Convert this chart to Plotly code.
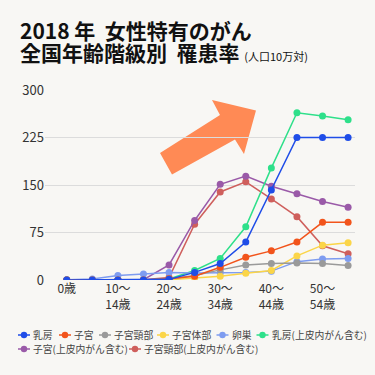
import plotly.graph_objects as go

categories = ["0歳", "5～9歳", "10～14歳", "15～19歳", "20～24歳", "25～29歳",
              "30～34歳", "35～39歳", "40～44歳", "45～49歳", "50～54歳", "55～59歳"]
tick_cats = ["0歳", "10～14歳", "20～24歳", "30～34歳", "40～44歳", "50～54歳"]
tick_text = ["0歳", "10～<br>14歳", "20～<br>24歳", "30～<br>34歳", "40～<br>44歳", "50～<br>54歳"]

series_names = ["乳房", "子宮", "子宮頸部", "子宮体部", "卵巣",
                "乳房(上皮内がん含む)", "子宮(上皮内がん含む)", "子宮頸部(上皮内がん含む)"]
breast = [0, 0, 0, 0, 1, 12, 26, 60, 142, 225, 225, 225]
uterus = [0, 0, 0, 0, 2, 6, 20, 36, 46, 60, 91, 91]
cervix = [0, 0, 0, 0, 1.5, 7, 16, 23.5, 26, 27, 26, 23]
corpus = [0, 0, 0, 0, 0.5, 3, 6, 10.5, 15, 38, 55, 59]
ovary = [0.5, 1.5, 7, 9.5, 12, 11, 11.5, 12, 14, 29, 33, 34]
breast_cis = [0, 0, 0, 0, 1.5, 15, 34, 84, 177, 264, 259, 253]
uterus_cis = [0, 0, 0, 0.5, 23.7, 94, 151, 164, 148, 136, 124, 115]
cervix_cis = [0, 0, 0, 0.5, 4, 88, 139, 155, 128, 100, 54, 41.5]
series_values = [breast, uterus, cervix, corpus, ovary, breast_cis, uterus_cis, cervix_cis]
colors = ["#1f4de8", "#f2541b", "#9a9a9a", "#fbd548", "#7e9cf0",
          "#2ee08a", "#9a5aa8", "#cf5f5c"]

y_ticks = [0, 75, 150, 225, 300]

fig = go.Figure()
# draw in reverse so the first series sits on top
for i in reversed(range(len(series_names))):
    fig.add_trace(go.Scatter(
        x=categories, y=series_values[i], name=series_names[i],
        mode="lines+markers", showlegend=False,
        line=dict(color=colors[i], width=1.5),
        marker=dict(color=colors[i], size=7),
    ))

L, R, T, B = 45, 20, 90, 95
W, H = 375, 375
pw, ph = W - L - R, H - T - B


def px(x):
    return (x - L) / pw


def py(y):
    return (H - B - y) / ph


arrow_pts = [(160, 153), (220, 115), (212, 100), (256, 110.5),
             (244, 154), (235, 139.5), (172, 174.5)]
path = "M " + " L ".join(f"{px(x):.4f},{py(y):.4f}" for x, y in arrow_pts) + " Z"
shapes = [dict(type="path", path=path, xref="paper", yref="paper",
               fillcolor="#ff8a55", line=dict(width=0), layer="below")]

annotations = [
    dict(text="<b>2018 年  女性特有のがん</b>", xref="paper", yref="paper",
         x=px(18), y=py(30), xanchor="left", yanchor="middle", showarrow=False,
         font=dict(size=21, color="#111111", family="Noto Sans CJK JP")),
    dict(text="<b>全国年齢階級別  罹患率</b> <span style='font-size:11px'>(人口10万対)</span>",
         xref="paper", yref="paper",
         x=px(18), y=py(52), xanchor="left", yanchor="middle", showarrow=False,
         font=dict(size=21, color="#111111", family="Noto Sans CJK JP")),
]

# custom legend (dot-line symbol + label)
legend_pos = [(24, 335), (65, 335), (105, 335), (163, 335), (222.5, 335), (262.5, 335),
              (24, 349), (135, 349)]
for i, (cx, cy) in enumerate(legend_pos):
    shapes.append(dict(type="line", xref="paper", yref="paper",
                       x0=px(cx - 6), x1=px(cx + 6), y0=py(cy), y1=py(cy),
                       line=dict(color=colors[i], width=1.5)))
    shapes.append(dict(type="circle", xref="paper", yref="paper",
                       x0=px(cx - 3.2), x1=px(cx + 3.2), y0=py(cy - 3.2), y1=py(cy + 3.2),
                       fillcolor=colors[i], line=dict(width=0)))
    annotations.append(dict(text=series_names[i], xref="paper", yref="paper",
                            x=px(cx + 7), y=py(cy), xanchor="left", yanchor="middle",
                            showarrow=False,
                            font=dict(size=9.8, color="#444444", family="Noto Sans CJK JP")))

fig.update_layout(
    width=W, height=H,
    margin=dict(l=L, r=R, t=T, b=B, autoexpand=False),
    paper_bgcolor="#f8f7f4", plot_bgcolor="#f8f7f4",
    font=dict(family="Noto Sans CJK JP", color="#333333", size=13),
    showlegend=False,
    xaxis=dict(type="category", categoryorder="array", categoryarray=categories,
               range=[-0.85, 11.27], tickvals=tick_cats, ticktext=tick_text,
               showgrid=False, zeroline=False, showline=False, ticks="",
               tickfont=dict(size=12, color="#333333")),
    yaxis=dict(range=[0, 300], tickvals=y_ticks, showgrid=True, gridcolor="#dcdcdc",
               gridwidth=1, zeroline=False, showline=False, ticks="",
               tickfont=dict(size=13, color="#333333")),
    shapes=shapes,
    annotations=annotations,
)

fig.write_html("out.html", config={"displayModeBar": False},
               post_script="document.body.style.margin='0';document.body.style.background='#f8f7f4';")
